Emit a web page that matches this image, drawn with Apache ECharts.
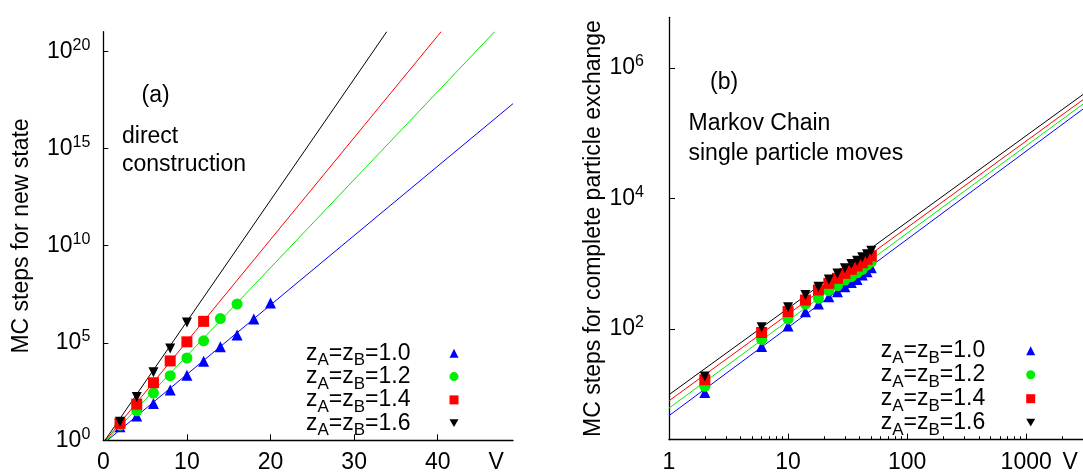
<!DOCTYPE html>
<html><head><meta charset="utf-8">
<script src="https://cdn.jsdelivr.net/npm/echarts@6/dist/echarts.min.js"></script>
<style>html,body{margin:0;padding:0;background:#fff}#c{width:1083px;height:474px}</style>
</head><body><div id="c"></div>
<script>
// ---------- Panel (a): direct construction ----------
const vA_10 = [2, 4, 6, 8, 10, 12, 14, 16, 18, 20];
const stepsA_10 = [5.0, 18, 79, 380, 2.2e3, 1.15e4, 6.5e4, 2.6e5, 1.7e6, 1.15e7];
const vA_12 = [2, 4, 6, 8, 10, 12, 14, 16];
const stepsA_12 = [6.0, 33, 270, 2.1e3, 1.7e4, 1.3e5, 1.8e6, 1.0e7];
const vA_14 = [2, 4, 6, 8, 10, 12];
const stepsA_14 = [7.4, 72, 910, 1.2e4, 1.15e5, 1.3e6];
const vA_16 = [2, 4, 6, 8, 10];
const stepsA_16 = [9.1, 170, 3.1e3, 5.2e4, 1.15e6];
// fitted lines (two end points)
const fitA_10 = [[0.5, 1], [49, 2e17]];
const fitA_12 = [[0.4, 1], [46.8, 1e21]];
const fitA_14 = [[0.3, 1], [40.4, 1e21]];
const fitA_16 = [[0.2, 1], [33.9, 1e21]];
const xTicksA = [0, 10, 20, 30, 40];
const xLabelsA = [0, 10, 20, 30, 40, 47];
const yTicksA = [1, 1e5, 1e10, 1e15, 1e20];

// ---------- Panel (b): Markov chain ----------
const vB = [2, 6, 10, 14, 18, 22, 26, 30, 34, 38, 42, 46, 50];
const stepsB_10 = [10.6, 53.7, 111, 184, 241, 312, 372, 443, 513, 574, 670, 753, 870];
const stepsB_12 = [13.2, 69, 142, 239, 295, 385, 460, 562, 631, 724, 818, 955, 1070];
const stepsB_14 = [16.6, 88, 184, 277, 395, 500, 597, 710, 818, 920, 1035, 1167, 1320];
const stepsB_16 = [18.6, 106, 215, 331, 443, 574, 710, 850, 990, 1110, 1250, 1390, 1578];
const fitB_10 = [[1, 4.67], [3000, 2.35e5]];
const fitB_12 = [[1, 6.1], [3000, 2.8e5]];
const fitB_14 = [[1, 7.9], [3000, 3.27e5]];
const fitB_16 = [[1, 9.8], [3000, 3.93e5]];
const xTicksB = [1, 10, 100, 1000];
const xLabelsB = [1, 10, 100, 1000, 2340];
const xMinorB = [2,3,4,5,6,7,8,9,20,30,40,50,60,70,80,90,200,300,400,500,600,700,800,900,2000];
const yTicksB = [1e2, 1e4, 1e6];

const zLabels = ['1.0', '1.2', '1.4', '1.6'];

const FONT = 'Liberation Sans, Arial, Helvetica, sans-serif';
const colors = ['#0000ff', '#00ee00', '#ff0000', '#000000'];
const symbols = ['triangle', 'circle', 'rect', 'triangle'];
const rotations = [0, 0, 0, 180];
const symSizes = [11, 11, 11, 10];
const legendIcons = ['triangle', 'circle', 'rect', 'path://M0,0L10,0L5,8.66Z'];

const pts = (xs, ys) => xs.map((x, i) => [x, ys[i]]);
const powLabel = v => '{b|10}{p|' + Math.round(Math.log10(v)) + '}';

const axisLineStyle = { color: '#000', width: 1.3 };
const supRich = {
  b: { fontSize: 23, fontFamily: FONT, color: '#000' },
  p: { fontSize: 16, fontFamily: FONT, color: '#000', padding: [0, 0, 12, 0] }
};
const legendRich = (gap) => ({
  t: { fontSize: 23, lineHeight: 23, fontFamily: FONT, color: '#000' },
  s: { fontSize: 17, lineHeight: 17, fontFamily: FONT, color: '#000', padding: [15, 0, 0, 0] },
  g: { width: gap }
});
const legendText = lab => '{t|z}{s|A}{t|=z}{s|B}{t|=' + lab + '}{g| }';

const dataA = [pts(vA_10, stepsA_10), pts(vA_12, stepsA_12), pts(vA_14, stepsA_14), pts(vA_16, stepsA_16)];
const fitsA = [fitA_10, fitA_12, fitA_14, fitA_16];
const dataB = [pts(vB, stepsB_10), pts(vB, stepsB_12), pts(vB, stepsB_14), pts(vB, stepsB_16)];
const fitsB = [fitB_10, fitB_12, fitB_14, fitB_16];

const series = [];
[0, 1].forEach(p => {
  const fits = p === 0 ? fitsA : fitsB;
  const data = p === 0 ? dataA : dataB;
  const pre = p === 0 ? 'a' : 'b';
  for (let i = 0; i < 4; i++) {
    series.push({
      type: 'line', name: pre + 'fit' + i, xAxisIndex: p === 0 ? 0 : 1, yAxisIndex: p,
      data: fits[i], showSymbol: false, symbol: 'none',
      lineStyle: { color: colors[i], width: 1 }, z: 2, silent: true
    });
  }
  for (let i = 0; i < 4; i++) {
    series.push({
      type: 'scatter', name: pre + zLabels[i], xAxisIndex: p === 0 ? 0 : 1, yAxisIndex: p,
      data: data[i], symbol: symbols[i], symbolRotate: rotations[i], symbolSize: symSizes[i],
      itemStyle: { color: colors[i], opacity: 1 }, z: 3 + i
    });
  }
});

const chart = echarts.init(document.getElementById('c'), null, { renderer: 'canvas' });
chart.setOption({
  animation: false,
  backgroundColor: '#fff',
  textStyle: { fontFamily: FONT },
  grid: [
    { left: 103.3, top: 31.7, width: 409.7, height: 408.6, containLabel: false, outerBoundsMode: 'none' },
    { left: 669, top: 17.3, width: 414, height: 422.4, containLabel: false, outerBoundsMode: 'none' }
  ],
  xAxis: [
    {
      type: 'value', gridIndex: 0, min: 0, max: 49, position: 'bottom',
      axisLine: { onZero: false, lineStyle: axisLineStyle },
      axisTick: { inside: true, length: 6, customValues: xTicksA, lineStyle: { color: '#000', width: 1 } },
      axisLabel: { customValues: xLabelsA, margin: 11, fontSize: 23, color: '#000', fontFamily: FONT,
        formatter: v => (v === 47 ? 'V' : String(v)) },
      splitLine: { show: false }
    },
    {
      type: 'log', logBase: 10, gridIndex: 1, min: 1, max: 3000, position: 'bottom',
      axisLine: { onZero: false, lineStyle: axisLineStyle },
      axisTick: { inside: true, length: 6, customValues: xTicksB, lineStyle: { color: '#000', width: 1 } },
      axisLabel: { customValues: xLabelsB, margin: 11, fontSize: 23, color: '#000', fontFamily: FONT,
        formatter: v => (Math.round(v) === 2340 ? 'V' : String(Math.round(v))) },
      splitLine: { show: false }
    },
    {
      type: 'log', logBase: 10, gridIndex: 1, min: 1, max: 3000, position: 'bottom',
      axisLine: { show: false, onZero: false },
      axisTick: { inside: true, length: 3.5, customValues: xMinorB, lineStyle: { color: '#000', width: 1 } },
      axisLabel: { show: false },
      splitLine: { show: false }
    }
  ],
  yAxis: [
    {
      type: 'log', logBase: 10, gridIndex: 0, min: 1, max: 1e21,
      name: 'MC steps for new state', nameLocation: 'middle', nameGap: 70,
      nameTextStyle: { fontSize: 23, color: '#000', fontFamily: FONT },
      axisLine: { onZero: false, lineStyle: axisLineStyle },
      axisTick: { inside: true, length: 5, customValues: yTicksA, lineStyle: { color: '#000', width: 1 } },
      axisLabel: { customValues: yTicksA, margin: 13, formatter: powLabel, rich: supRich },
      splitLine: { show: false }
    },
    {
      type: 'log', logBase: 10, gridIndex: 1, min: 2, max: 6e6,
      name: 'MC steps for complete particle exchange', nameLocation: 'middle', nameGap: 58,
      nameTextStyle: { fontSize: 23, color: '#000', fontFamily: FONT },
      axisLine: { onZero: false, lineStyle: axisLineStyle },
      axisTick: { inside: true, length: 6, customValues: yTicksB, lineStyle: { color: '#000', width: 1 } },
      axisLabel: { customValues: yTicksB, margin: 25, formatter: powLabel, rich: supRich },
      splitLine: { show: false }
    }
  ],
  legend: [
    {
      orient: 'vertical', align: 'right', right: 624.5, top: 337.3, padding: 0,
      itemGap: -8.7, itemWidth: 9, itemHeight: 9, selectedMode: false,
      data: zLabels.map((l, i) => ({ name: 'a' + l, icon: legendIcons[i] })),
      formatter: n => legendText(n.slice(1)),
      textStyle: { rich: legendRich(34) }
    },
    {
      orient: 'vertical', align: 'right', right: 47.8, top: 334.7, padding: 0,
      itemGap: -8, itemWidth: 9, itemHeight: 9, selectedMode: false,
      data: zLabels.map((l, i) => ({ name: 'b' + l, icon: legendIcons[i] })),
      formatter: n => legendText(n.slice(1)),
      textStyle: { rich: legendRich(36) }
    }
  ],
  graphic: [
    { type: 'text', x: 141.5, y: 95.5, style: { text: '(a)', font: '23px ' + FONT, fill: '#000', verticalAlign: 'middle' } },
    { type: 'text', x: 122, y: 136.7, style: { text: 'direct', font: '23px ' + FONT, fill: '#000', verticalAlign: 'middle' } },
    { type: 'text', x: 122, y: 164.4, style: { text: 'construction', font: '23px ' + FONT, fill: '#000', verticalAlign: 'middle' } },
    { type: 'text', x: 710, y: 82.3, style: { text: '(b)', font: '23px ' + FONT, fill: '#000', verticalAlign: 'middle' } },
    { type: 'text', x: 688.5, y: 124, style: { text: 'Markov Chain', font: '23px ' + FONT, fill: '#000', verticalAlign: 'middle' } },
    { type: 'text', x: 688.5, y: 154, style: { text: 'single particle moves', font: '23px ' + FONT, fill: '#000', verticalAlign: 'middle' } }
  ],
  series: series
});
</script>
</body></html>
